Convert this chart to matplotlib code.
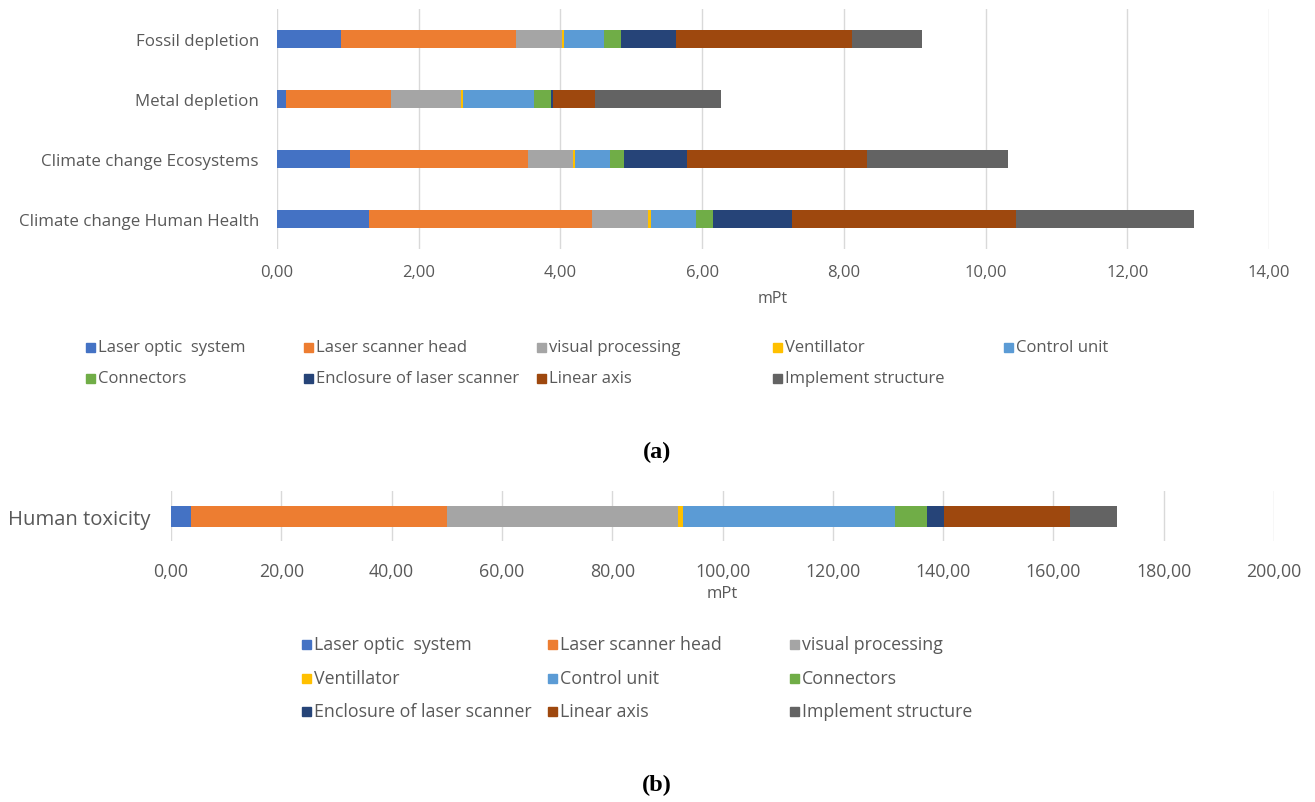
import matplotlib.pyplot as plt
from matplotlib.patches import Rectangle
from matplotlib.ticker import FuncFormatter

plt.rcParams["font.family"] = ["Open Sans", "DejaVu Sans"]

TEXT = "#595959"
GRID = "#d9d9d9"

SERIES = [
    "Laser optic  system", "Laser scanner head", "visual processing",
    "Ventillator", "Control unit", "Connectors",
    "Enclosure of laser scanner", "Linear axis", "Implement structure",
]
COLORS = ["#4472C4", "#ED7D31", "#A5A5A5", "#FFC000", "#5B9BD5",
          "#70AD47", "#264478", "#9E480E", "#636363"]

# (a) categories, top to bottom as drawn
CATS_A = ["Fossil depletion", "Metal depletion",
          "Climate change Ecosystems", "Climate change Human Health"]
laser_optic = [0.91, 0.13, 1.03, 1.30]
scanner_head = [2.46, 1.48, 2.51, 3.14]
visual_proc = [0.65, 0.99, 0.64, 0.80]
ventillator = [0.03, 0.02, 0.03, 0.04]
control_unit = [0.56, 1.00, 0.49, 0.63]
connectors = [0.24, 0.24, 0.20, 0.24]
enclosure = [0.78, 0.03, 0.89, 1.12]
linear_axis = [2.49, 0.60, 2.53, 3.16]
implement = [0.98, 1.78, 1.99, 2.51]
VALUES_A = [laser_optic, scanner_head, visual_proc, ventillator, control_unit,
            connectors, enclosure, linear_axis, implement]

# (b) human toxicity, one value per series
CAT_B = "Human toxicity"
VALUES_B = [3.55, 46.45, 42.0, 0.9, 38.4, 5.8, 3.1, 22.8, 8.6]

W, H = 1315, 803
fig = plt.figure(figsize=(W / 100, H / 100), dpi=100)


def box(x0, y0, x1, y1):
    # pixel box (top-left origin) -> figure fraction rect
    return [x0 / W, 1 - y1 / H, (x1 - x0) / W, (y1 - y0) / H]


comma = FuncFormatter(lambda v, _: f"{v:.2f}".replace(".", ","))


def style(ax, fs):
    for s in ax.spines.values():
        s.set_visible(False)
    ax.grid(axis="x", color=GRID, lw=1.0)
    ax.set_axisbelow(True)
    ax.xaxis.set_major_formatter(comma)
    ax.tick_params(axis="x", length=0, labelsize=fs, colors=TEXT)
    ax.tick_params(axis="y", length=0, colors=TEXT)


# ---- (a)
ax1 = fig.add_axes(box(277, 10, 1269, 250))
ypos = list(range(len(CATS_A)))
left = [0.0] * len(CATS_A)
for name, vals, col in zip(SERIES, VALUES_A, COLORS):
    ax1.barh(ypos, vals, left=left, height=0.31, color=col, label=name)
    left = [l + v for l, v in zip(left, vals)]
ax1.set_yticks(ypos)
ax1.set_yticklabels(CATS_A, fontsize=12.2)
ax1.set_ylim(len(CATS_A) - 0.5, -0.5)
ax1.set_xlim(0, 14)
ax1.set_xticks(range(0, 15, 2))
style(ax1, 12)
ax1.tick_params(axis="x", pad=11)
ax1.tick_params(axis="y", pad=13)
ax1.set_xlabel("mPt", fontsize=11.5, color=TEXT, labelpad=7)

# ---- (b)
ax2 = fig.add_axes(box(171, 492, 1274, 542))
lb = 0.0
for name, v, col in zip(SERIES, VALUES_B, COLORS):
    ax2.barh([0], [v], left=lb, height=0.42, color=col)
    lb += v
ax2.set_yticks([0])
ax2.set_yticklabels([CAT_B], fontsize=14.6)
ax2.set_ylim(-0.5, 0.5)
ax2.set_xlim(0, 200)
ax2.set_xticks(range(0, 201, 20))
style(ax2, 12.8)
ax2.tick_params(axis="x", pad=15)
ax2.tick_params(axis="y", pad=15)
ax2.set_xlabel("mPt", fontsize=12, color=TEXT, labelpad=4)


def legend(cols, rows, order, fs):
    k = 0
    for r in rows:
        for c in cols:
            if k >= len(order):
                return
            i = order[k]
            fig.patches.append(Rectangle((c / W, 1 - (r + 4.5) / H), 9 / W, 9 / H,
                                         transform=fig.transFigure,
                                         color=COLORS[i], zorder=3))
            fig.text((c + 12) / W, 1 - r / H, SERIES[i], fontsize=fs,
                     color=TEXT, ha="left", va="center")
            k += 1


legend([86, 304, 537, 773, 1004], [348, 379], list(range(9)), 12)
legend([302, 548, 790], [645, 679, 712], list(range(9)), 12.8)

fig.text(657 / W, 1 - 452 / H, "(a)", fontsize=17.5, fontweight="bold",
         family="Liberation Serif", ha="center", va="center", color="black")
fig.text(657 / W, 1 - 785 / H, "(b)", fontsize=17.5, fontweight="bold",
         family="Liberation Serif", ha="center", va="center", color="black")

fig.savefig("out.png", dpi=100, facecolor="white")
